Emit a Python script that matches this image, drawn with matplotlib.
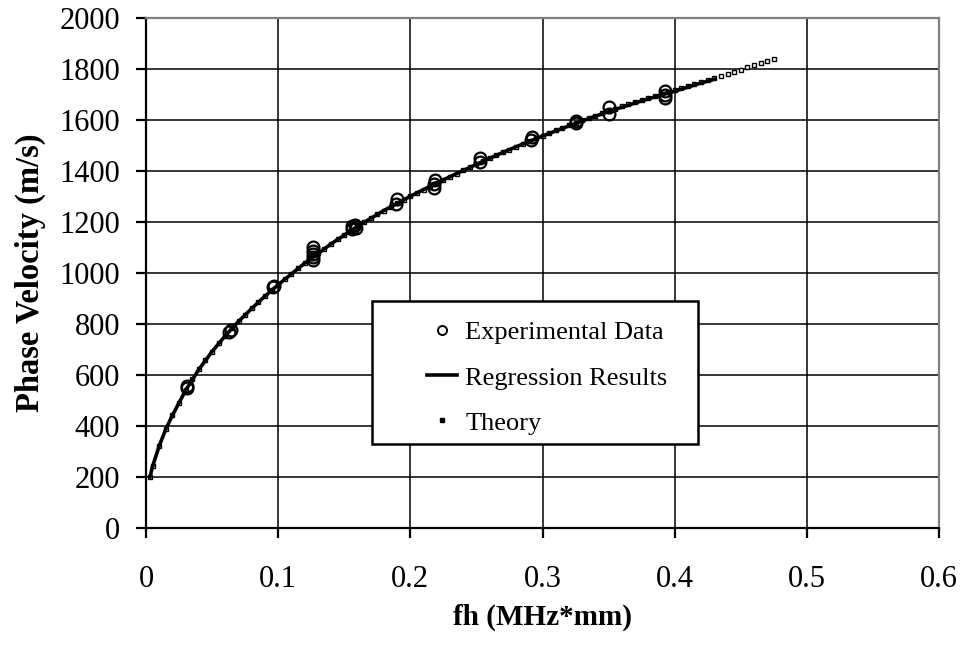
import matplotlib
matplotlib.use("Agg")
import matplotlib.pyplot as plt
from matplotlib.patches import Rectangle
from matplotlib.lines import Line2D

# Measured phase velocities (fh in MHz*mm, velocity in m/s)
exp_fh = [0.031, 0.031, 0.063, 0.064, 0.096, 0.097,
          0.126, 0.126, 0.126, 0.126, 0.126,
          0.156, 0.156, 0.158, 0.159,
          0.189, 0.190, 0.218, 0.218, 0.219,
          0.253, 0.253, 0.291, 0.292, 0.325, 0.325,
          0.350, 0.350, 0.393, 0.393, 0.393]
exp_v = [548, 555, 768, 778, 944, 948,
         1050, 1062, 1075, 1088, 1103,
         1172, 1183, 1188, 1178,
         1272, 1292, 1335, 1350, 1365,
         1436, 1450, 1522, 1535, 1590, 1596,
         1625, 1650, 1685, 1700, 1715]

# Regression curve
reg_fh = [0.003, 0.005, 0.010, 0.015, 0.020, 0.030, 0.040, 0.050, 0.060, 0.070,
          0.080, 0.090, 0.100, 0.120, 0.140, 0.160, 0.180, 0.200, 0.220, 0.240,
          0.260, 0.280, 0.300, 0.320, 0.340, 0.360, 0.380, 0.400, 0.420, 0.430]
reg_v = [200, 242, 322, 388, 442, 540, 622, 692, 754, 810,
         861, 909, 954, 1038, 1114, 1183, 1245, 1301, 1353, 1402,
         1450, 1495, 1537, 1577, 1615, 1650, 1683, 1713, 1745, 1760]

# Theoretical dispersion curve
th_fh = [0.003, 0.005, 0.010, 0.015, 0.020, 0.025, 0.030, 0.035, 0.040, 0.045,
         0.050, 0.055, 0.060, 0.065, 0.070, 0.075, 0.080, 0.085, 0.090, 0.095,
         0.100, 0.105, 0.110, 0.115, 0.120, 0.125, 0.130, 0.135, 0.140, 0.145,
         0.150, 0.155, 0.160, 0.165, 0.170, 0.175, 0.180, 0.185, 0.190, 0.195,
         0.200, 0.205, 0.210, 0.215, 0.220, 0.225, 0.230, 0.235, 0.240, 0.245,
         0.250, 0.255, 0.260, 0.265, 0.270, 0.275, 0.280, 0.285, 0.290, 0.295,
         0.300, 0.305, 0.310, 0.315, 0.320, 0.325, 0.330, 0.335, 0.340, 0.345,
         0.350, 0.355, 0.360, 0.365, 0.370, 0.375, 0.380, 0.385, 0.390, 0.395,
         0.400, 0.405, 0.410, 0.415, 0.420, 0.425, 0.430, 0.435, 0.440, 0.445,
         0.450, 0.455, 0.460, 0.465, 0.470, 0.475]
th_v = [200, 242, 322, 388, 442, 492, 540, 583, 622, 658,
        692, 724, 754, 783, 810, 836, 861, 885, 909, 932,
        954, 976, 997, 1018, 1038, 1058, 1077, 1096, 1114, 1132,
        1149, 1166, 1183, 1199, 1215, 1230, 1245, 1260, 1274, 1288,
        1301, 1314, 1327, 1340, 1353, 1366, 1378, 1390, 1402, 1414,
        1426, 1438, 1450, 1462, 1473, 1484, 1495, 1506, 1517, 1528,
        1539, 1549, 1559, 1569, 1579, 1589, 1599, 1608, 1617, 1626,
        1635, 1644, 1653, 1662, 1670, 1678, 1686, 1694, 1702, 1710,
        1718, 1726, 1734, 1742, 1750, 1758, 1766, 1774, 1782, 1790,
        1798, 1806, 1814, 1822, 1830, 1838]

x_ticks = [0, 0.1, 0.2, 0.3, 0.4, 0.5, 0.6]
x_tick_labels = ["0", "0.1", "0.2", "0.3", "0.4", "0.5", "0.6"]
y_ticks = list(range(0, 2001, 200))

plt.rcParams["font.family"] = ["Liberation Serif", "DejaVu Serif"]

W, H = 963, 645
fig = plt.figure(figsize=(W / 100, H / 100), dpi=100)
ax = fig.add_axes([146 / W, 1 - 528 / H, (939 - 146) / W, (528 - 18) / H])

ax.set_xlim(0, 0.6)
ax.set_ylim(0, 2000)
ax.set_xticks(x_ticks)
ax.set_xticklabels(x_tick_labels)
ax.set_yticks(y_ticks)
ax.grid(True, color="black", linewidth=1.1)
ax.set_axisbelow(True)

for side in ("left", "bottom"):
    ax.spines[side].set_color("black")
    ax.spines[side].set_linewidth(1.6)
for side in ("top", "right"):
    ax.spines[side].set_color("#808080")
    ax.spines[side].set_linewidth(1.6)

ax.tick_params(axis="both", direction="out", length=7.5, width=1.6,
               labelsize=22, color="black")
ax.tick_params(axis="x", pad=19)
ax.tick_params(axis="y", pad=11)

ax.plot(th_fh, th_v, linestyle="none", marker="s", markersize=3.2,
        markerfacecolor="white", markeredgecolor="black",
        markeredgewidth=1.0, zorder=3)
ax.plot(reg_fh, reg_v, color="black", linewidth=2.6, zorder=4)
ax.plot(exp_fh, exp_v, linestyle="none", marker="o", markersize=8.5,
        markerfacecolor="none", markeredgecolor="black",
        markeredgewidth=1.6, zorder=5)

ax.set_xlabel("fh (MHz*mm)", fontsize=21, fontweight="bold")
ax.xaxis.set_label_coords(0.5, (528 - 604) / 510)
ax.set_ylabel("Phase Velocity (m/s)", fontsize=23.5, fontweight="bold")
ax.yaxis.set_label_coords((46 - 146) / 793, 0.5)

# Legend box
bx0, bx1 = (372 - 146) / 793, (698 - 146) / 793
by0, by1 = (528 - 444) / 510, (528 - 301) / 510
ax.add_patch(Rectangle((bx0, by0), bx1 - bx0, by1 - by0, transform=ax.transAxes,
                       facecolor="white", edgecolor="black", linewidth=1.8,
                       zorder=6))

handles = [
    Line2D([], [], linestyle="none", marker="o", markersize=6.5,
           markerfacecolor="none", markeredgecolor="black", markeredgewidth=1.4),
    Line2D([], [], color="black", linewidth=2.6),
    Line2D([], [], linestyle="none", marker="s", markersize=2.8,
           markerfacecolor="black", markeredgecolor="black"),
]
labels = ["Experimental Data", "Regression Results", "Theory"]
leg = ax.legend(handles, labels, loc="upper left",
                bbox_to_anchor=((427 - 146) / 793, (528 - 321) / 510),
                frameon=False, fontsize=19, handlelength=1.15,
                handletextpad=0.3, labelspacing=0.82, borderpad=0,
                borderaxespad=0, numpoints=1)
leg.set_zorder(7)

fig.savefig("out.png", dpi=100)
